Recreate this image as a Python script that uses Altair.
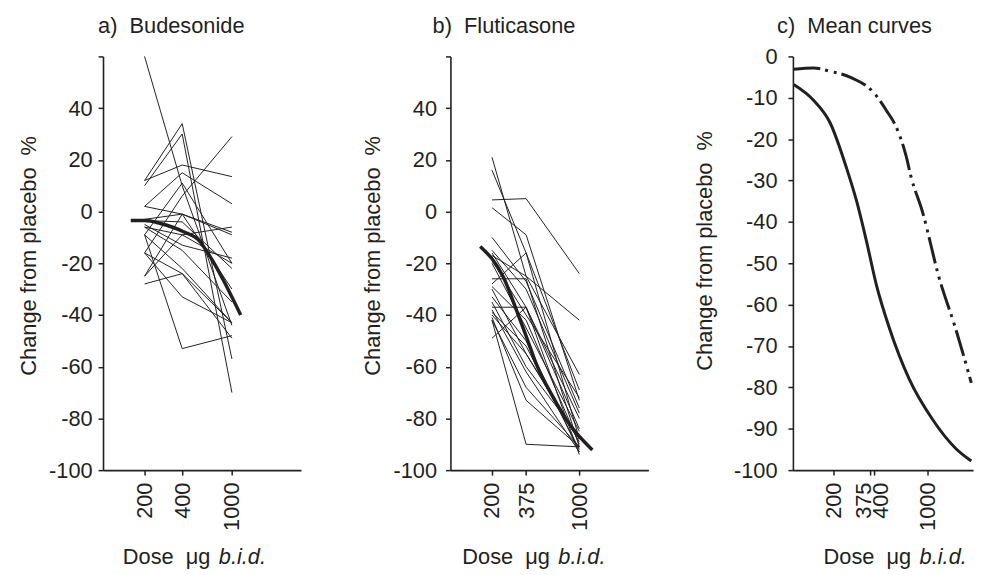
import altair as alt
import pandas as pd

INK = "#231f20"
FONT = "Liberation Sans"

# ---------------- data ----------------
# a) Budesonide: one line per subject, change from placebo (%) at each dose
BUD_DOSES = [200, 400, 1000]
BUD_AT_200 = [60, 12, 10, 12, 2, -16, -9, -3.5, -3, -6, -5, -6, -9, -16, -25, -28, -9, -16, -25, 2]
BUD_AT_400 = [10, 34, 30, 18, 15, 6, 11, -4, -1, -9, -13, -15, -22, -24, -1, -24, -53, -33, -9, -1]
BUD_AT_1000 = [-44, -57, -70, 13.5, 3, 29, -20, -22, -9, -6, -18, -35, -43, -49, -30, -43, -48, -43, -20, -8]

# a) fitted mean curve
BUD_MEAN_DOSE = [155, 200, 268, 410, 556, 628, 731, 849, 1175]
BUD_MEAN_VAL = [-3.5, -3.5, -4.6, -7.8, -11.6, -15.4, -20.5, -26.3, -40]

# b) Fluticasone
FLU_DOSES = [200, 375, 1000]
FLU_AT_200 = [21, 16, 1.5, 4.5, -17, -10, -16, -28, -26, -29, -33, -37, -39, -40, -42, -41, -42, -49, -20, -15, -35, -30, -19, -38]
FLU_AT_375 = [-25, -16, -9, 5, -25, -27, -37, -16, -26, -42, -50, -37, -52, -55, -68, -73, -90, -37, -45, -30, -60, -55, -40, -62]
FLU_AT_1000 = [-63, -69, -73, -24, -42, -76, -84, -88, -91, -90, -93, -94, -92, -88, -91, -91, -91, -80, -85, -78, -87, -89, -72, -93]

# b) fitted mean curve
FLU_MEAN_DOSE = [161, 247, 315, 378, 453, 615, 832, 1271]
FLU_MEAN_VAL = [-13.5, -25.4, -38.3, -48.6, -59, -71.7, -82.2, -92.2]

# c) mean curves of both drugs
MEAN_TICKS = [200, 375, 400, 1000]
C_FLU_DOSE = [102, 143, 190, 251, 298, 352, 417, 521, 730, 1083, 1604, 2100]
C_FLU_VAL = [-6.8, -10.6, -16.1, -27, -35, -44.6, -55.2, -65.7, -78, -87.7, -94.7, -97.8]
C_BUD_DOSE = [102, 143, 190, 266, 405, 493, 583, 691, 751, 915, 1211, 1604, 2100]
C_BUD_VAL = [-3.1, -2.8, -3.6, -5.0, -9, -13, -17, -24, -29, -37.6, -53.4, -65.7, -78.9]

Y_TICKS_AB = [-100, -80, -60, -40, -20, 0, 20, 40, 60]
Y_TICKS_C = [-100, -90, -80, -70, -60, -50, -40, -30, -20, -10, 0]

Y_TITLE = "Change from placebo\u00a0\u00a0%"
X_TITLE_1 = "Dose\u00a0\u00a0\u03bcg"
X_TITLE_2 = "b.i.d."


def subjects_frame(doses, cols):
    rows = []
    for i in range(len(cols[0])):
        for d, col in zip(doses, cols):
            rows.append({"subject": i, "dose": d, "change": col[i]})
    return pd.DataFrame(rows)


def x_axis(values, label_offset=0):
    return alt.Axis(
        values=values, title=None, labelAngle=270, labelFont=FONT, labelFontSize=22,
        labelColor=INK, labelPadding=7, labelOverlap=False, labelFlush=False,
        labelExpr="'' + datum.value", labelOffset=label_offset,
        tickSize=5, tickColor=INK, tickWidth=1.5,
        domainColor=INK, domainWidth=1.6, grid=False,
    )


def y_axis(values, label_pad, title_pad, title_y):
    return alt.Axis(
        values=values, title=Y_TITLE, titleFont=FONT, titleFontSize=22,
        titleFontWeight="normal", titleColor=INK, titlePadding=title_pad, titleY=title_y,
        labelFont=FONT, labelFontSize=22, labelColor=INK, labelPadding=label_pad,
        labelExpr="datum.value == 60 ? '' : '' + datum.value", labelOverlap=False,
        tickSize=5, tickColor=INK, tickWidth=1.5, domainColor=INK, domainWidth=1.6,
        grid=False,
    )


def x_title_layers(xs, ybase):
    t1 = alt.Chart(pd.DataFrame({"t": [X_TITLE_1]})).mark_text(
        align="left", baseline="alphabetic", font=FONT, fontSize=22, color=INK
    ).encode(x=alt.value(xs), y=alt.value(ybase), text="t:N")
    t2 = alt.Chart(pd.DataFrame({"t": [X_TITLE_2]})).mark_text(
        align="left", baseline="alphabetic", font=FONT, fontSize=22, color=INK,
        fontStyle="italic",
    ).encode(x=alt.value(xs + 97), y=alt.value(ybase), text="t:N")
    return [t1, t2]


def title(text, dx, offset):
    return alt.TitleParams(
        text, anchor="start", frame="group", dx=dx, offset=offset, font=FONT,
        fontSize=22, fontWeight="normal", color=INK,
    )


W_AB, W_C, H = 200, 182, 418
YBASE = 513


def spaghetti_panel(doses, cols, mean_dose, mean_val, ttl, dx, label_pad, title_pad, xs):
    x = alt.X("dose:Q", scale=alt.Scale(type="log", domain=[93, 3570]), axis=x_axis(doses))
    y = alt.Y("change:Q", scale=alt.Scale(domain=[-100, 60]),
              axis=y_axis(Y_TICKS_AB, label_pad, title_pad, 201))
    subj = alt.Chart(subjects_frame(doses, cols)).mark_line(
        color=INK, strokeWidth=1
    ).encode(x=x, y=y, detail="subject:N")
    mean = alt.Chart(pd.DataFrame({"dose": mean_dose, "change": mean_val})).mark_line(
        color=INK, strokeWidth=3.5, interpolate="monotone"
    ).encode(x=x, y=y)
    return alt.layer(subj, mean, *x_title_layers(xs, YBASE)).properties(
        width=W_AB, height=H, title=title(ttl, dx, 8)
    )


pa = spaghetti_panel(BUD_DOSES, [BUD_AT_200, BUD_AT_400, BUD_AT_1000],
                     BUD_MEAN_DOSE, BUD_MEAN_VAL, "a)\u00a0\u00a0Budesonide", -5, 6, 8, 20)
pb = spaghetti_panel(FLU_DOSES, [FLU_AT_200, FLU_AT_375, FLU_AT_1000],
                     FLU_MEAN_DOSE, FLU_MEAN_VAL, "b)\u00a0\u00a0Fluticasone", -18, 9, 9, 12)

c_label_offset = {
    "condition": [
        {"test": "datum.value == 375", "value": -7},
        {"test": "datum.value == 400", "value": 7},
    ],
    "value": 0,
}
xc = alt.X("dose:Q", scale=alt.Scale(type="log", domain=[100.7, 2163]),
           axis=x_axis(MEAN_TICKS, c_label_offset))
yc = alt.Y("change:Q", scale=alt.Scale(domain=[-100, 0]), axis=y_axis(Y_TICKS_C, 11, 17, 196))
c_flu = alt.Chart(pd.DataFrame({"dose": C_FLU_DOSE, "change": C_FLU_VAL})).mark_line(
    color=INK, strokeWidth=3, interpolate="monotone"
).encode(x=xc, y=yc)
c_bud = alt.Chart(pd.DataFrame({"dose": C_BUD_DOSE, "change": C_BUD_VAL})).mark_line(
    color=INK, strokeWidth=3, interpolate="monotone", strokeDash=[27, 5, 3, 6, 3, 5]
).encode(x=xc, y=yc)
pc = alt.layer(c_flu, c_bud, *x_title_layers(31, YBASE)).properties(
    width=W_C, height=H, title=title("c)\u00a0\u00a0Mean curves", -16, 8)
)

chart = alt.hconcat(
    alt.hconcat(pa, pb, spacing=60), pc, spacing=45
).properties(
    padding={"left": 9, "top": 4, "right": 0, "bottom": 0}
).configure_view(stroke=None)

chart.save("out.html", embed_options={"renderer": "svg", "actions": False})
